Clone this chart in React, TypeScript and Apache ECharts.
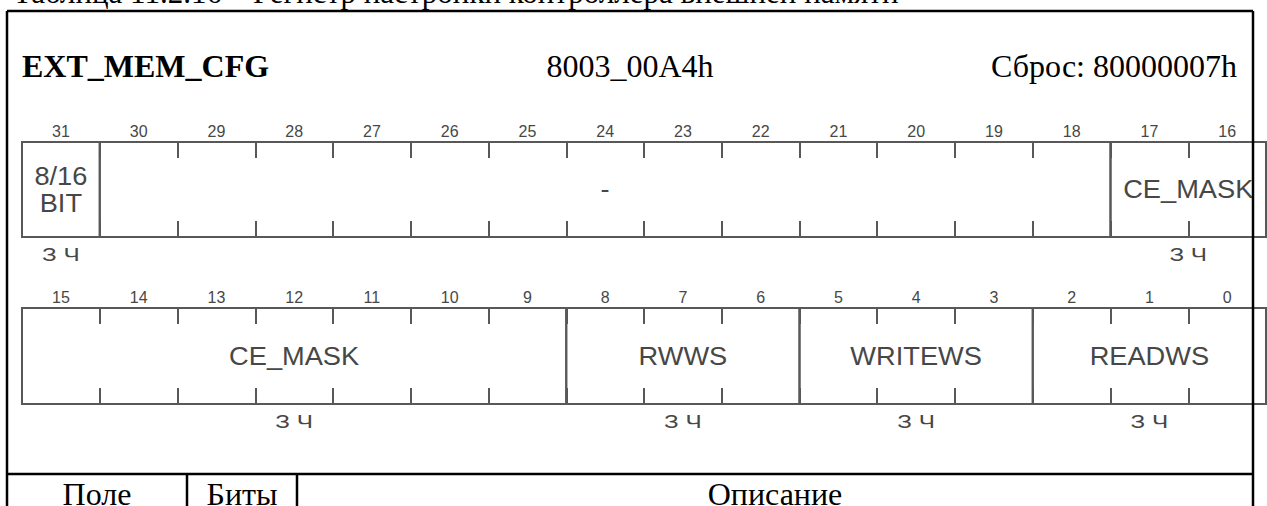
import React, { useEffect, useRef } from "react";
import * as echarts from "echarts";

// ---------- data ----------
const caption = "Таблица 11.2.16 – Регистр настройки контроллера внешней памяти";
const registerName = "EXT_MEM_CFG";
const registerAddress = "8003_00A4h";
const registerReset = "Сброс: 80000007h";
const tableHeaders = ["Поле", "Биты", "Описание"];

const bitsHigh = ["31", "30", "29", "28", "27", "26", "25", "24", "23", "22", "21", "20", "19", "18", "17", "16"];
const bitsLow = ["15", "14", "13", "12", "11", "10", "9", "8", "7", "6", "5", "4", "3", "2", "1", "0"];

const fieldNames = ["8/16\nBIT", "-", "CE_MASK", "RWWS", "WRITEWS", "READWS"];
const fieldMsb = [31, 30, 17, 8, 5, 2];
const fieldLsb = [31, 18, 9, 6, 3, 0];
const fieldAccess = ["З Ч", "", "З Ч", "З Ч", "З Ч", "З Ч"];

// ---------- styles ----------
const LINE = "#585858";
const TEXT = "#474747";
const SANS = "'Liberation Sans', Arial, sans-serif";
const SERIF = "'Liberation Serif', 'Times New Roman', serif";

type Seg = { s: number; e: number; name: string; access: string };

function rowSegments(topBit: number): Seg[] {
  const bottomBit = topBit - 15;
  const out: Seg[] = [];
  for (let i = 0; i < fieldNames.length; i++) {
    const hi = Math.min(fieldMsb[i], topBit);
    const lo = Math.max(fieldLsb[i], bottomBit);
    if (hi >= lo) out.push({ s: topBit - hi, e: topBit - lo, name: fieldNames[i], access: fieldAccess[i] });
  }
  return out;
}

const makeRender = (segs: Seg[]) => (params: any, api: any) => {
  const seg = segs[params.dataIndex];
  const bw = api.size([1, 0])[0];
  const a = api.coord([api.value(0), 1]);
  const b = api.coord([api.value(1), 0]);
  const x0 = a[0] - bw / 2;
  const x1 = b[0] + bw / 2;
  const y0 = a[1];
  const y1 = b[1];
  const cx = (x0 + x1) / 2;
  const cy = (y0 + y1) / 2;
  const children: any[] = [
    {
      type: "rect",
      shape: { x: x0, y: y0, width: x1 - x0, height: y1 - y0 },
      style: { fill: "none", stroke: LINE, lineWidth: 2 },
    },
    {
      type: "text",
      x: cx,
      y: cy,
      scaleX: 1.09,
      style: {
        text: seg.name,
        align: "center",
        verticalAlign: "middle",
        fontSize: 25,
        lineHeight: 27,
        fontFamily: SANS,
        fill: TEXT,
      },
    },
  ];
  if (seg.access) {
    children.push({
      type: "text",
      x: cx,
      y: y1 + 18,
      scaleX: 1.35,
      style: {
        text: seg.access,
        align: "center",
        verticalAlign: "middle",
        fontSize: 18,
        fontFamily: SANS,
        fill: TEXT,
      },
    });
  }
  return { type: "group", children };
};

const topAxis = (gridIndex: number, data: string[]) => ({
  type: "category",
  gridIndex,
  position: "top",
  data,
  boundaryGap: true,
  axisLine: { show: true, onZero: false, lineStyle: { color: LINE, width: 2 } },
  axisTick: { show: true, inside: true, length: 16, interval: 0, lineStyle: { color: LINE, width: 2 } },
  axisLabel: { show: true, interval: 0, margin: 3, fontSize: 16, color: TEXT, fontFamily: SANS },
  splitLine: { show: false },
});

const bottomAxis = (gridIndex: number, data: string[]) => ({
  type: "category",
  gridIndex,
  position: "bottom",
  data,
  boundaryGap: true,
  axisLine: { show: true, onZero: false, lineStyle: { color: LINE, width: 2 } },
  axisTick: { show: true, inside: true, length: 16, interval: 0, lineStyle: { color: LINE, width: 2 } },
  axisLabel: { show: false },
  splitLine: { show: false },
});

export default function App() {
  const ref = useRef<HTMLDivElement>(null);

  useEffect(() => {
    if (!ref.current) return;
    const chart = echarts.init(ref.current, undefined, { renderer: "svg" });
    const rowHigh = rowSegments(31);
    const rowLow = rowSegments(15);

    const frameLine = (x1: number, y1: number, x2: number, y2: number) => ({
      type: "line",
      z: 100,
      shape: { x1, y1, x2, y2 },
      style: { stroke: "#000", lineWidth: 2.5 },
    });
    const serifText = (text: string, x: number, y: number, align: string, size = 32, bold = false) => ({
      type: "text",
      z: 100,
      x,
      y,
      style: {
        text,
        align,
        verticalAlign: "middle",
        fontSize: size,
        fontWeight: bold ? "bold" : "normal",
        fontFamily: SERIF,
        fill: "#000",
      },
    });

    chart.setOption({
      animation: false,
      backgroundColor: "#fff",
      grid: [
        { left: 22, top: 142, width: 1244, height: 95 },
        { left: 22, top: 308, width: 1244, height: 96 },
      ],
      xAxis: [topAxis(0, bitsHigh), bottomAxis(0, bitsHigh), topAxis(1, bitsLow), bottomAxis(1, bitsLow)],
      yAxis: [
        { type: "value", gridIndex: 0, min: 0, max: 1, show: false },
        { type: "value", gridIndex: 1, min: 0, max: 1, show: false },
      ],
      series: [
        {
          type: "custom",
          xAxisIndex: 0,
          yAxisIndex: 0,
          clip: false,
          encode: { x: [0, 1] },
          data: rowHigh.map((s) => [s.s, s.e]),
          renderItem: makeRender(rowHigh),
        },
        {
          type: "custom",
          xAxisIndex: 2,
          yAxisIndex: 1,
          clip: false,
          encode: { x: [0, 1] },
          data: rowLow.map((s) => [s.s, s.e]),
          renderItem: makeRender(rowLow),
        },
      ],
      graphic: [
        serifText(caption, 13, -8, "left", 31),
        serifText(registerName, 22, 66, "left", 32, true),
        serifText(registerAddress, 630, 66, "center"),
        serifText(registerReset, 1237, 66, "right"),
        frameLine(7, 11, 1253, 11),
        frameLine(7, 11, 7, 520),
        frameLine(1253, 11, 1253, 520),
        frameLine(7, 474, 1253, 474),
        frameLine(187, 474, 187, 520),
        frameLine(297, 474, 297, 520),
        serifText(tableHeaders[0], 97, 494, "center"),
        serifText(tableHeaders[1], 242, 494, "center"),
        serifText(tableHeaders[2], 775, 494, "center"),
      ],
    });
    return () => chart.dispose();
  }, []);

  return (
    <div
      ref={ref}
      style={{ position: "absolute", left: 0, top: 0, width: 1267, height: 506, background: "#fff" }}
    />
  );
}
